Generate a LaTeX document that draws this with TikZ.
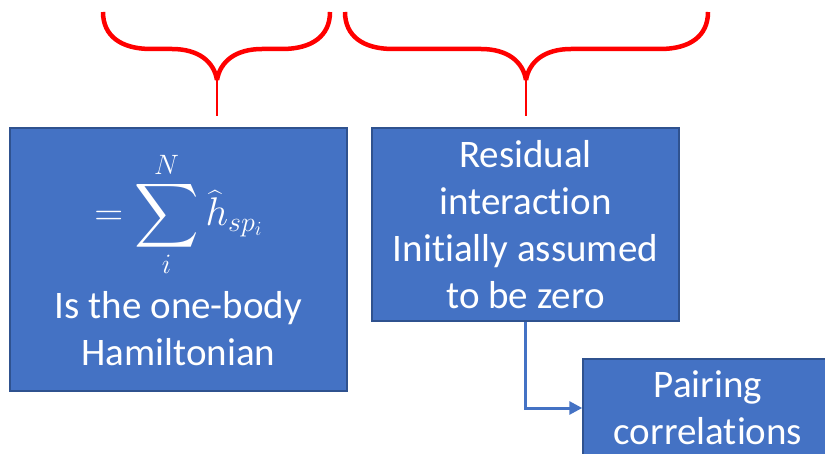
\RequirePackage{fix-cm}
\documentclass[tikz,border=0pt]{standalone}
\usepackage{amsmath}
\usepackage{exscale}
\usepackage{graphicx}
\usepackage{fontspec}
\setmainfont{Carlito}[Ligatures=NoCommon]
\usetikzlibrary{arrows.meta}
\definecolor{boxblue}{HTML}{4472C4}
\definecolor{boxedge}{HTML}{2F528F}
\newcommand{\hsp}{\widehat{h}_{sp_i}}
\newcommand{\bigsum}{\mathop{\vcenter{\hbox{\scalebox{1.8}{$\displaystyle\sum$}}}}\limits}
% left end, tip, right end
\newcommand{\redbrace}[3]{%
  \draw[bracestyle] (#1,12) .. controls (#1,36) and (#1+18,49) .. (#1+48,49)
    -- (#2-45,49) .. controls (#2-18,49) and (#2-3,62) .. (#2,80);
  \draw[bracestyle] (#3,12) .. controls (#3,36) and (#3-18,49) .. (#3-48,49)
    -- (#2+45,49) .. controls (#2+18,49) and (#2+3,62) .. (#2,80);
  \draw[bracestyle,line width=2.5pt] (#2,76) -- (#2,116);
}

\begin{document}
\begin{tikzpicture}[x=1pt,y=-1pt,
    bracestyle/.style={red,line width=4.5pt},
    bluebox/.style={fill=boxblue,draw=boxedge,line width=1.5pt,text=white,
      inner sep=0pt,align=center,font=\fontsize{39}{47}\selectfont},
    conn/.style={boxblue,line width=3pt,-{Triangle[length=13pt,width=13pt]}}]
    \useasboundingbox (0,0) rectangle (825,454);
    \clip (0,0) rectangle (825,454);

    \node[bluebox,minimum width=337,minimum height=263] (1) at (178.5,259.5)
      {{\fontsize{40}{48}\selectfont$=\bigsum_{i}^{N}\hsp$}\\[14pt]
       Is the one-body\\ Hamiltonian};
    \node[bluebox,minimum width=307,minimum height=193] (2) at (525.5,224.5)
      {Residual\\ interaction\\ Initially assumed\\ to be zero};
    \node[bluebox,minimum width=250,minimum height=98] (3) at (708,408)
      {Pairing\\ correlations};

    \redbrace{103}{217}{330}
    \redbrace{345}{526}{708}

    \draw[conn] (2.south) |- (3.west);
  \end{tikzpicture}
\end{document}
